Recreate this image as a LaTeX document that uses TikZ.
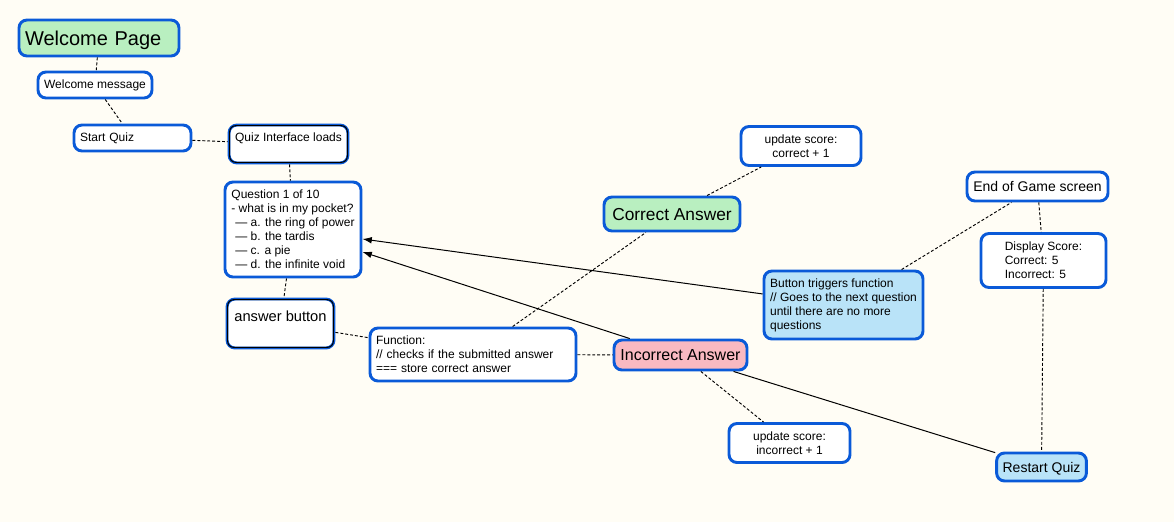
\documentclass[tikz,border=0pt]{standalone}
\usepackage{fontspec}
\setmainfont{Liberation Sans}
\usetikzlibrary{arrows.meta}
\definecolor{paper}{RGB}{255,253,245}
\definecolor{rimblue}{RGB}{10,90,216}
\definecolor{mint}{RGB}{185,239,192}
\definecolor{rose}{RGB}{249,185,193}
\definecolor{sky}{RGB}{185,227,248}
\tikzset{
	box/.style={draw=rimblue, line width=2.2pt, rounded corners=6pt, fill=white, inner xsep=4.5pt, inner ysep=3pt, align=left, font=\fontsize{9}{10.5}\selectfont},
	link/.style={line width=0.7pt, dash pattern=on 2.2pt off 1.5pt},
	wire/.style={line width=0.75pt},
	rim/.style={line width=0.8pt, rounded corners=4.5pt},
}

\begin{document}
\begin{tikzpicture}[x=0.75pt, y=-0.75pt]
		%%%%% START %%%%%
		
		\fill[paper] (0, 0) rectangle (1174, 522);
		
		\node[box, fill=mint, text width=111pt, minimum height=27pt, text height=12pt, text depth=1.3pt, font=\fontsize{15}{18}\selectfont] (wp) at (99, 38) {Welcome Page};
		\node[box, minimum width=85.5pt, minimum height=19.5pt] (wm) at (95, 85) {Welcome message};
		\node[box, text width=78.75pt, minimum height=19.5pt] (sq) at (132.5, 138) {Start Quiz};
		
		\node[box, minimum width=89.25pt, text height=9pt, text depth=13.5pt] (qi) at (288.5, 144) {Quiz Interface loads};
		\draw[rim] ([shift={(1.6pt,-1.6pt)}]qi.north west) rectangle ([shift={(-1.6pt,1.6pt)}]qi.south east);
		
		\node[box, minimum width=102pt, minimum height=71.25pt] (qu) at (293, 229.5) {Question 1 of 10\\- what is in my pocket?\\\hspace*{3pt}— a. the ring of power\\\hspace*{3pt}— b. the tardis\\\hspace*{3pt}— c. a pie\\\hspace*{3pt}— d. the infinite void};
		
		\node[box, minimum width=80.25pt, text height=13.5pt, text depth=17.25pt, font=\fontsize{11}{13}\selectfont] (ab) at (280.5, 323.5) {answer button};
		\draw[rim] ([shift={(1.6pt,-1.6pt)}]ab.north west) rectangle ([shift={(-1.6pt,1.6pt)}]ab.south east);
		
		\node[box, text width=145.5pt, minimum height=39.75pt] (fn) at (473, 354.5) {Function:\\// checks if the submitted answer\\=== store correct answer};
		
		\node[box, fill=mint, minimum width=102pt, minimum height=25.5pt, text height=10.5pt, text depth=1.2pt, font=\fontsize{13}{15}\selectfont] (ca) at (672, 214) {Correct Answer};
		\node[box, align=center, minimum width=90pt, minimum height=29.25pt] (uc) at (801, 146) {update score:\\correct + 1};
		
		\node[box, fill=rose, minimum width=99.75pt, minimum height=22.5pt, text height=9.8pt, text depth=1.2pt, font=\fontsize{12}{14}\selectfont] (ia) at (680.5, 355) {Incorrect Answer};
		\node[box, align=center, minimum width=90.75pt, minimum height=29.25pt] (ui) at (789.5, 443) {update score:\\incorrect + 1};
		
		\node[box, fill=sky, minimum width=119.25pt, minimum height=51pt] (bt) at (843.5, 305) {Button triggers function\\// Goes to the next question\\until there are no more\\questions};
		
		\node[box, minimum width=105.75pt, minimum height=21.75pt, text height=8.5pt, text depth=1pt, font=\fontsize{10.5}{12.5}\selectfont] (eg) at (1037.5, 186.5) {End of Game screen};
		\node[box, minimum width=93.75pt, minimum height=40.5pt] (ds) at (1043.5, 260.5) {Display Score:\\Correct: 5\\Incorrect: 5};
		\node[box, fill=sky, minimum width=66.75pt, minimum height=21pt, text height=8.5pt, text depth=1pt, font=\fontsize{10.5}{12.5}\selectfont] (rq) at (1041.5, 467) {Restart Quiz};
		
		\draw[link] (wp) -- (wm);
		\draw[link] (wm) -- (sq);
		\draw[link] (sq) -- (qi);
		\draw[link] (qi) -- (qu);
		\draw[link] (qu) -- (ab);
		\draw[link] (ab) -- (fn);
		\draw[link] (fn) -- (ca);
		\draw[link] (ca) -- (uc);
		\draw[link] (fn) -- (ia);
		\draw[link] (ia) -- (ui);
		\draw[link] (bt) -- (eg);
		\draw[link] (eg) -- (ds);
		\draw[link] (ds) -- (rq);
		
		\draw[wire, -{Latex[length=7pt, width=5pt]}] (ia) -- (qu);
		\draw[wire, -{Latex[length=7pt, width=5pt]}] (bt) -- (qu);
		\draw[wire] (ia) -- (rq);
		
		%%%%% END %%%%%
	\end{tikzpicture}
\end{document}
